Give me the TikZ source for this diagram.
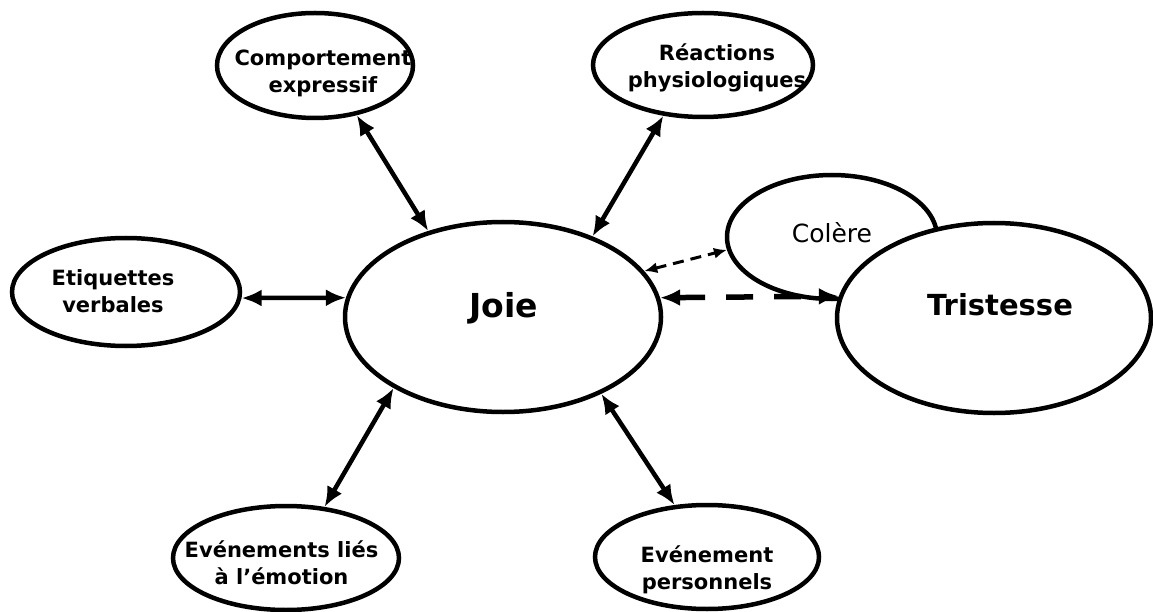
\documentclass[tikz,border=0pt]{standalone}
\usepackage{fontspec}
\setmainfont{DejaVu Sans}
\usetikzlibrary{shapes.geometric,arrows.meta}
\begin{document}
\begin{tikzpicture}[x=1pt,y=-1pt,
  oval/.style={draw, ellipse, line width=4.5pt, inner sep=0pt, fill=white},
  lab/.style={align=center, inner sep=0pt, font=\bfseries\fontsize{21}{27}\selectfont},
  biarrow/.style={line width=4.5pt, {Latex[length=20pt,width=17pt]}-{Latex[length=20pt,width=17pt]}},
  dashthin/.style={line width=3pt, dash pattern=on 11pt off 7pt, {Latex[length=13pt,width=11pt]}-{Latex[length=13pt,width=11pt]}},
  dashthick/.style={line width=5.5pt, dash pattern=on 27pt off 21pt, {Latex[length=20pt,width=17pt]}-{Latex[length=20pt,width=17pt]}}]
\useasboundingbox[fill=white] (0,0) rectangle (1153,612);

% ellipses
\node[oval, minimum width=196pt, minimum height=105pt] (ce) at (315,65.5) {};
\node[oval, minimum width=220pt, minimum height=104pt] (rp) at (703,65) {};
\node[oval, minimum width=228pt, minimum height=108pt] (et) at (126,292) {};
\node[oval, minimum width=316pt, minimum height=190pt] (joie) at (503,317) {};
\node[oval, minimum width=226pt, minimum height=104pt] (el) at (286,558) {};
\node[oval, minimum width=224pt, minimum height=104pt] (ep) at (707,557) {};
\node[oval, minimum width=210pt, minimum height=124pt] (col) at (832,237) {};
\node[oval, minimum width=314pt, minimum height=190pt] (tr) at (994,318) {};

% texts
\node[lab] (cet) at (323,73.5) {Comportement\\expressif};
\node[lab] (rpt) at (717,68) {Réactions\\physiologiques};
\node[lab] (ett) at (113,291) {Etiquettes\\verbales};
\node[lab] (elt) at (281.5,562.5) {Evénements liés\\à l’émotion};
\node[lab] (ept) at (707,570) {Evénement\\personnels};
\node[inner sep=0pt, anchor=base, font=\bfseries\fontsize{33}{40}\selectfont] (joiet) at (504,317) {Joie};
\node[inner sep=0pt, anchor=base, font=\bfseries\fontsize{29}{35}\selectfont] (trt) at (1000,315) {Tristesse};
\node[inner sep=0pt, anchor=base, font=\fontsize{25}{30}\selectfont] (colt) at (832,243) {Colère};

% connectors
\draw[biarrow] (ce.-50) -- (joie.131);
\draw[biarrow] (rp.-128) -- (joie.42);
\draw[biarrow] (et.-3) -- (joie.173);
\draw[biarrow] (el.53) -- (joie.-147);
\draw[biarrow] (ep.122) -- (joie.-38);
\draw[dashthin] (joie.18) -- (col.187);
\draw[dashthick] (joie.7) -- (tr.172.6);
\end{tikzpicture}
\end{document}
